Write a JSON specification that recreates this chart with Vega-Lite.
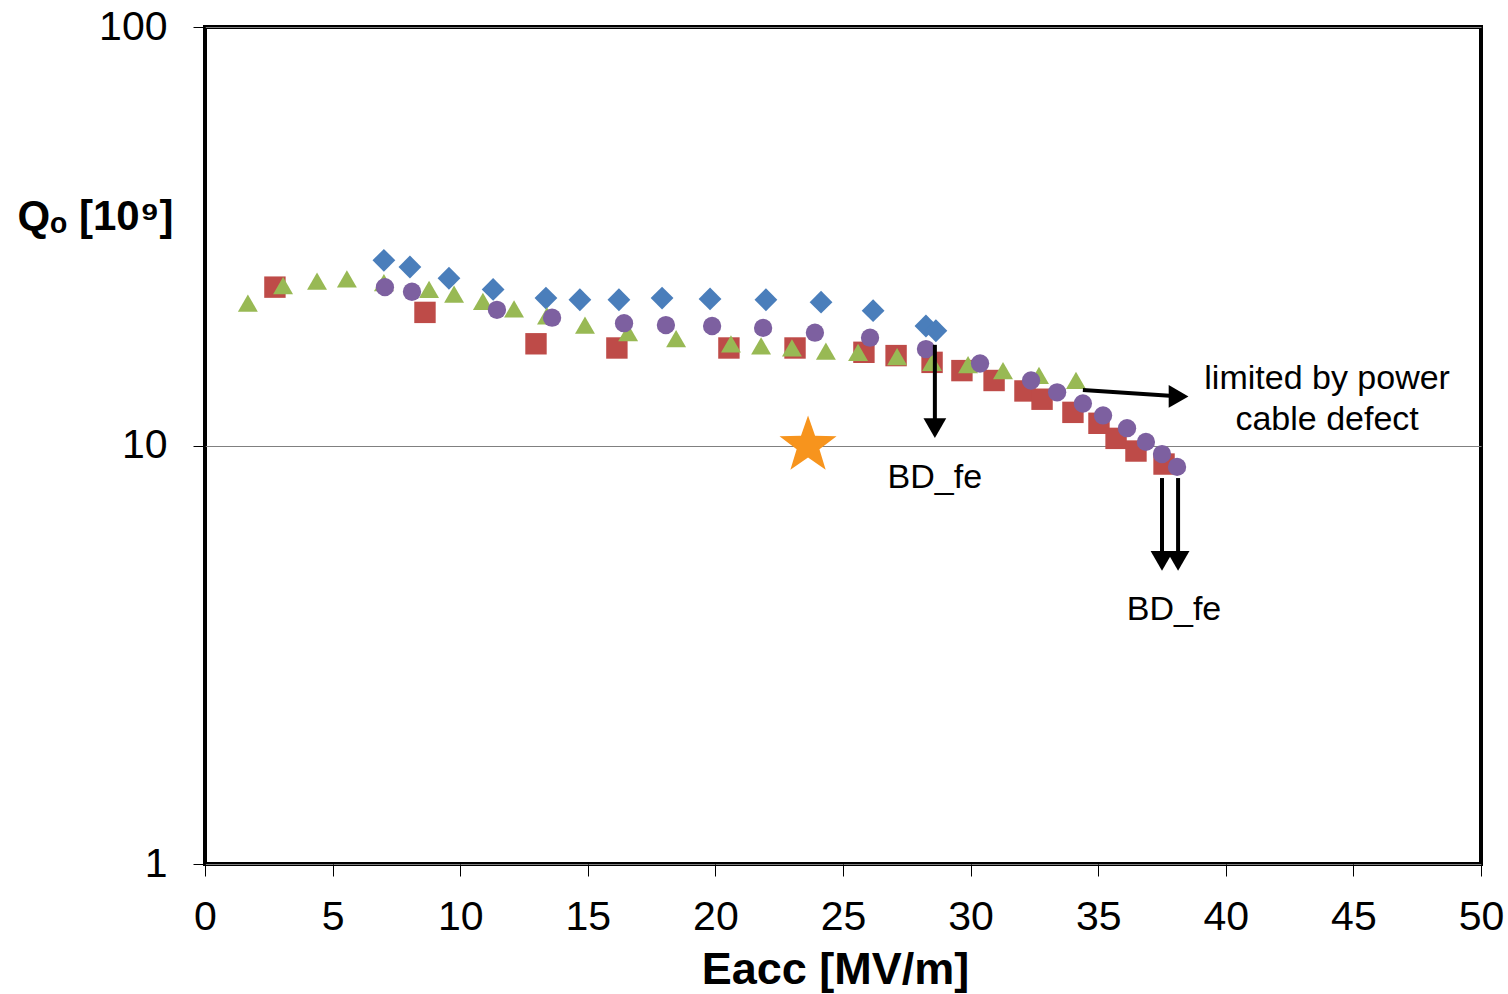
{
  "$schema": "https://vega.github.io/schema/vega-lite/v6.json",
  "width": 1276,
  "height": 837,
  "autosize": "none",
  "padding": {"left": 205, "top": 27, "right": 27, "bottom": 130},
  "background": "white",
  "config": {
    "font": "Liberation Sans",
    "view": {"stroke": "black", "strokeWidth": 4}
  },
  "encoding": {
    "x": {
      "field": "E", "type": "quantitative",
      "scale": {"domain": [0, 50], "nice": false, "zero": false},
      "axis": {
        "values": [0, 5, 10, 15, 20, 25, 30, 35, 40, 45, 50],
        "title": "Eacc [MV/m]",
        "titleFontSize": 45, "titleFontWeight": "bold", "titleColor": "black", "titlePadding": 10,
        "titleX": 630, "titleAnchor": "middle",
        "labelFontSize": 41, "labelColor": "black", "labelPadding": 21, "labelFlush": false,
        "tickSize": 12, "tickColor": "black", "tickWidth": 1,
        "domain": false, "grid": false
      }
    },
    "y": {
      "field": "Q", "type": "quantitative",
      "scale": {"type": "log", "domain": [1, 100], "nice": false},
      "axis": {
        "values": [1, 10, 100], "format": "d",
        "title": "Qₒ [10⁹]",
        "titleAngle": 0, "titleAlign": "center", "titleBaseline": "middle",
        "titleX": -110, "titleY": 189,
        "titleFontSize": 42, "titleFontWeight": "bold", "titleColor": "black",
        "labelFontSize": 41, "labelColor": "black", "labelPadding": 26, "labelFlush": false,
        "tickSize": 12, "tickColor": "black", "tickWidth": 1,
        "domain": false, "grid": true, "gridColor": "#808080", "gridWidth": 1.2, "gridOpacity": 1
      }
    }
  },
  "layer": [
    {
      "data": {"values": [
        {"s": "A", "E": 7.01, "Q": 27.7}, {"s": "A", "E": 8.03, "Q": 26.7}, {"s": "A", "E": 9.56, "Q": 25.1},
        {"s": "A", "E": 11.29, "Q": 23.6}, {"s": "A", "E": 13.36, "Q": 22.5}, {"s": "A", "E": 14.69, "Q": 22.3},
        {"s": "A", "E": 16.22, "Q": 22.3}, {"s": "A", "E": 17.91, "Q": 22.5}, {"s": "A", "E": 19.79, "Q": 22.4},
        {"s": "A", "E": 21.98, "Q": 22.3}, {"s": "A", "E": 24.14, "Q": 22.0}, {"s": "A", "E": 26.18, "Q": 21.0},
        {"s": "A", "E": 28.25, "Q": 19.3}, {"s": "A", "E": 28.64, "Q": 18.8},
        {"s": "B", "E": 2.74, "Q": 23.9}, {"s": "B", "E": 8.62, "Q": 20.8}, {"s": "B", "E": 12.97, "Q": 17.5},
        {"s": "B", "E": 16.14, "Q": 17.1}, {"s": "B", "E": 20.53, "Q": 17.1}, {"s": "B", "E": 23.12, "Q": 17.1},
        {"s": "B", "E": 25.82, "Q": 16.7}, {"s": "B", "E": 27.08, "Q": 16.4}, {"s": "B", "E": 28.49, "Q": 15.8},
        {"s": "B", "E": 29.66, "Q": 15.1}, {"s": "B", "E": 30.92, "Q": 14.3}, {"s": "B", "E": 32.13, "Q": 13.5},
        {"s": "B", "E": 32.8, "Q": 12.9}, {"s": "B", "E": 34.01, "Q": 12.0}, {"s": "B", "E": 35.03, "Q": 11.3},
        {"s": "B", "E": 35.7, "Q": 10.4}, {"s": "B", "E": 36.48, "Q": 9.7}, {"s": "B", "E": 37.58, "Q": 9.03},
        {"s": "C", "E": 1.68, "Q": 21.9}, {"s": "C", "E": 3.06, "Q": 24.1}, {"s": "C", "E": 4.39, "Q": 24.7},
        {"s": "C", "E": 5.56, "Q": 25.0}, {"s": "C", "E": 7.01, "Q": 24.5}, {"s": "C", "E": 8.78, "Q": 23.6},
        {"s": "C", "E": 9.76, "Q": 23.0}, {"s": "C", "E": 10.89, "Q": 22.1}, {"s": "C", "E": 12.11, "Q": 21.2},
        {"s": "C", "E": 13.4, "Q": 20.4}, {"s": "C", "E": 14.89, "Q": 19.4}, {"s": "C", "E": 16.58, "Q": 18.6},
        {"s": "C", "E": 18.46, "Q": 18.0}, {"s": "C", "E": 20.61, "Q": 17.5}, {"s": "C", "E": 21.79, "Q": 17.3},
        {"s": "C", "E": 23.0, "Q": 17.1}, {"s": "C", "E": 24.33, "Q": 16.8}, {"s": "C", "E": 25.59, "Q": 16.7},
        {"s": "C", "E": 27.12, "Q": 16.3}, {"s": "C", "E": 28.49, "Q": 15.8}, {"s": "C", "E": 29.9, "Q": 15.6},
        {"s": "C", "E": 31.27, "Q": 15.1}, {"s": "C", "E": 32.68, "Q": 14.7}, {"s": "C", "E": 34.13, "Q": 14.3},
        {"s": "D", "E": 7.05, "Q": 23.9}, {"s": "D", "E": 8.11, "Q": 23.3}, {"s": "D", "E": 11.44, "Q": 21.1},
        {"s": "D", "E": 13.6, "Q": 20.2}, {"s": "D", "E": 16.42, "Q": 19.6}, {"s": "D", "E": 18.06, "Q": 19.4},
        {"s": "D", "E": 19.87, "Q": 19.3}, {"s": "D", "E": 21.87, "Q": 19.1}, {"s": "D", "E": 23.9, "Q": 18.6},
        {"s": "D", "E": 26.06, "Q": 18.1}, {"s": "D", "E": 28.25, "Q": 17.0}, {"s": "D", "E": 30.37, "Q": 15.7},
        {"s": "D", "E": 32.37, "Q": 14.3}, {"s": "D", "E": 33.39, "Q": 13.4}, {"s": "D", "E": 34.4, "Q": 12.6},
        {"s": "D", "E": 35.19, "Q": 11.8}, {"s": "D", "E": 36.13, "Q": 11.0}, {"s": "D", "E": 36.87, "Q": 10.2},
        {"s": "D", "E": 37.5, "Q": 9.54}, {"s": "D", "E": 38.09, "Q": 8.89}
      ]},
      "mark": {"type": "point", "filled": true, "opacity": 1},
      "encoding": {
        "shape": {"field": "s", "type": "nominal", "legend": null,
          "scale": {"domain": ["A", "B", "C", "D"], "range": ["diamond", "square", "triangle-up", "circle"]}},
        "color": {"field": "s", "type": "nominal", "legend": null,
          "scale": {"domain": ["A", "B", "C", "D"], "range": ["#4A7EBB", "#BE4B48", "#98B954", "#7D60A0"]}},
        "size": {"field": "s", "type": "nominal", "legend": null,
          "scale": {"domain": ["A", "B", "C", "D"], "range": [520, 335, 470, 350]}}
      }
    },
    {
      "data": {"values": [{"E": 23.63, "Q": 10.0}]},
      "mark": {"type": "point", "shape": "M0,-1L0.235,-0.324L0.951,-0.309L0.38,0.124L0.588,0.809L0,0.4L-0.588,0.809L-0.38,0.124L-0.951,-0.309L-0.235,-0.324Z", "filled": true, "color": "#F7941D", "opacity": 1, "size": 3600},
      "encoding": {}
    },
    {
      "data": {"values": [
        {"E": 28.6, "Q": 17.4, "E2": 28.6, "Q2": 11.0},
        {"E": 37.5, "Q": 8.36, "E2": 37.5, "Q2": 5.3},
        {"E": 38.13, "Q": 8.36, "E2": 38.13, "Q2": 5.3},
        {"E": 34.4, "Q": 13.57, "E2": 37.8, "Q2": 13.15}
      ]},
      "mark": {"type": "rule", "color": "black", "strokeWidth": 4},
      "encoding": {
        "x2": {"field": "E2"},
        "y2": {"field": "Q2"}
      }
    },
    {
      "data": {"values": [
        {"E": 28.6, "Q": 11.0},
        {"E": 37.5, "Q": 5.3},
        {"E": 38.13, "Q": 5.3}
      ]},
      "mark": {"type": "point", "shape": "triangle-down", "filled": true, "color": "black", "opacity": 1, "size": 520},
      "encoding": {}
    },
    {
      "data": {"values": [{"E": 38.15, "Q": 13.1}]},
      "mark": {"type": "point", "shape": "triangle-right", "filled": true, "color": "black", "opacity": 1, "size": 520},
      "encoding": {}
    },
    {
      "data": {"values": [
        {"E": 28.6, "Q": 8.36, "t": "BD_fe"},
        {"E": 37.97, "Q": 4.05, "t": "BD_fe"},
        {"E": 43.97, "Q": 14.4, "t": "limited  by power"},
        {"E": 43.97, "Q": 11.5, "t": "cable  defect"}
      ]},
      "mark": {"type": "text", "fontSize": 34, "color": "black", "align": "center", "baseline": "middle"},
      "encoding": {"text": {"field": "t", "type": "nominal"}}
    }
  ]
}
